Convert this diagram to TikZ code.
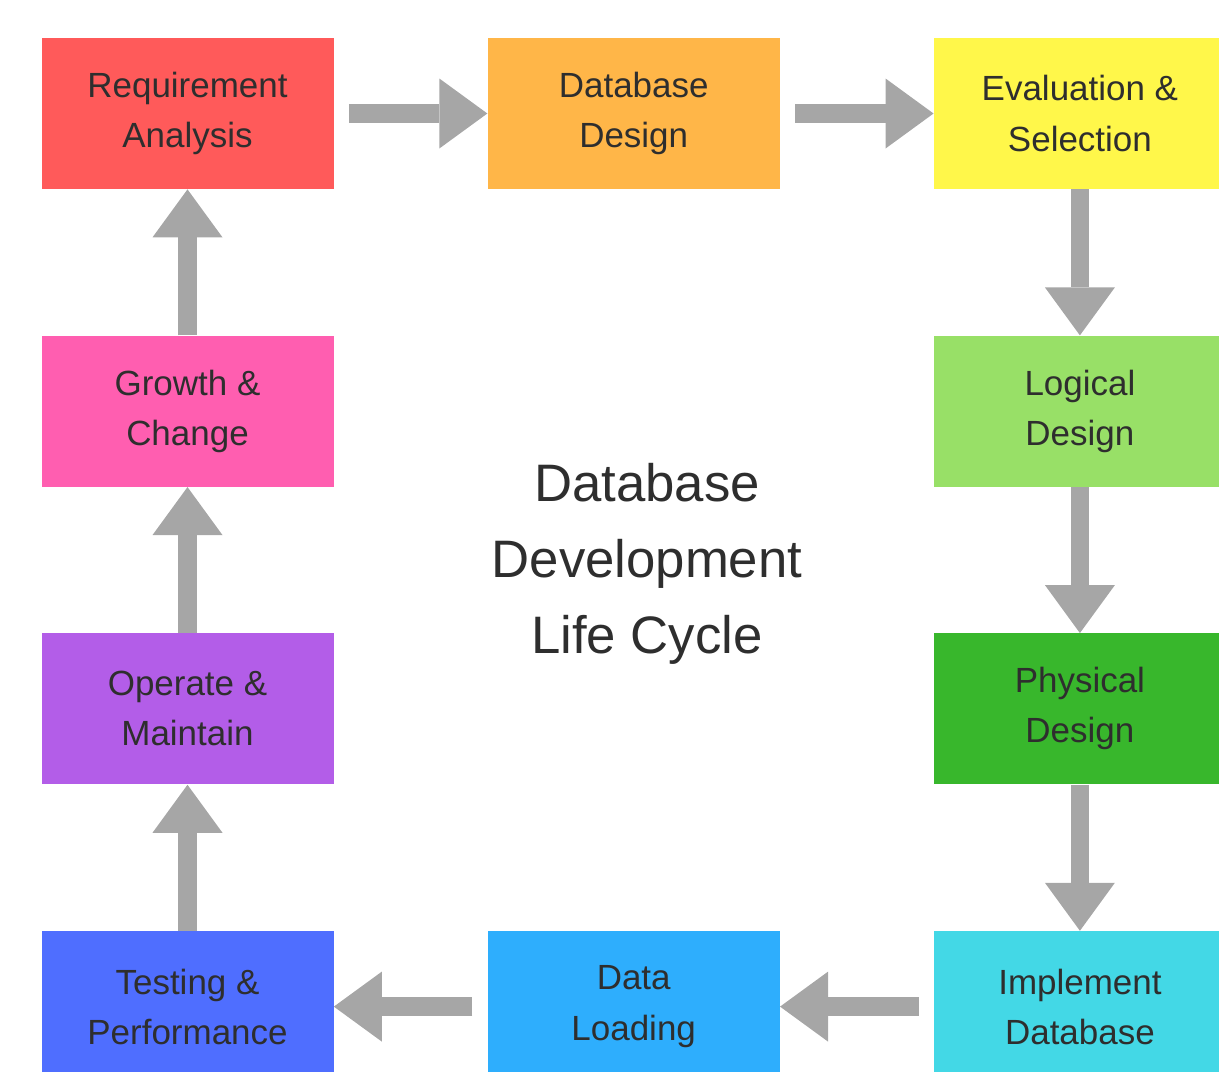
\documentclass[tikz,border=0pt]{standalone}
\usepackage{fontspec}
\setmainfont{Liberation Sans}
\usetikzlibrary{arrows.meta, positioning}

\definecolor{reqred}{HTML}{FF5A5A}
\definecolor{designorange}{HTML}{FFB648}
\definecolor{evalyellow}{HTML}{FFF74A}
\definecolor{logicgreen}{HTML}{98E067}
\definecolor{physgreen}{HTML}{38B72C}
\definecolor{implcyan}{HTML}{43D8E6}
\definecolor{loadblue}{HTML}{2EAEFD}
\definecolor{testblue}{HTML}{4F6EFF}
\definecolor{operpurple}{HTML}{B35DE8}
\definecolor{growpink}{HTML}{FF5EB0}
\definecolor{arrowgray}{HTML}{A6A6A6}
\definecolor{textgray}{HTML}{2E2E2E}

\begin{document}
\begin{tikzpicture}[
    node distance=2.92cm and 3.07cm,
    every node/.style={align=center, text=textgray},
    phase/.style={fill=#1, minimum width=5.84cm, minimum height=3.02cm, inner sep=0pt,
        font=\fontsize{19.9pt}{28.5pt}\selectfont},
    flow/.style={draw=arrowgray, line width=0.37cm,
        -{Triangle[length=0.96cm, width=1.4cm, line width=0pt]}},
    gap/.style={shorten <=0.3cm}
]
\clip (0,0) rectangle (24.38,-21.44);

% the ten phases, clockwise from the top left
\node[phase=reqred] (req) at (3.75,-2.27) {Requirement\\Analysis};
\node[phase=designorange, right=of req] (design) {Database\\Design};
\node[phase=evalyellow, right=of design] (evalsel) {Evaluation \&\\Selection};
\node[phase=logicgreen, below=of evalsel] (logical) {Logical\\Design};
\node[phase=physgreen, below=of logical] (physical) {Physical\\Design};
\node[phase=implcyan, below=of physical] (implement) {Implement\\Database};
\node[phase=loadblue, left=of implement] (loading) {Data\\Loading};
\node[phase=testblue, left=of loading] (testing) {Testing \&\\Performance};
\node[phase=operpurple, above=of testing] (operate) {Operate \&\\Maintain};
\node[phase=growpink, above=of operate] (growth) {Growth \&\\Change};

\node[font=\fontsize{30pt}{43.2pt}\selectfont] (title) at (12.94,-11.27)
    {Database\\Development\\Life Cycle};

\draw[flow, gap] (req) -- (design);
\draw[flow, gap] (design) -- (evalsel);
\draw[flow] (evalsel) -- (logical);
\draw[flow] (logical) -- (physical);
\draw[flow] (physical) -- (implement);
\draw[flow, gap] (implement) -- (loading);
\draw[flow, gap] (loading) -- (testing);
\draw[flow] (testing) -- (operate);
\draw[flow] (operate) -- (growth);
\draw[flow] (growth) -- (req);
\end{tikzpicture}
\end{document}
